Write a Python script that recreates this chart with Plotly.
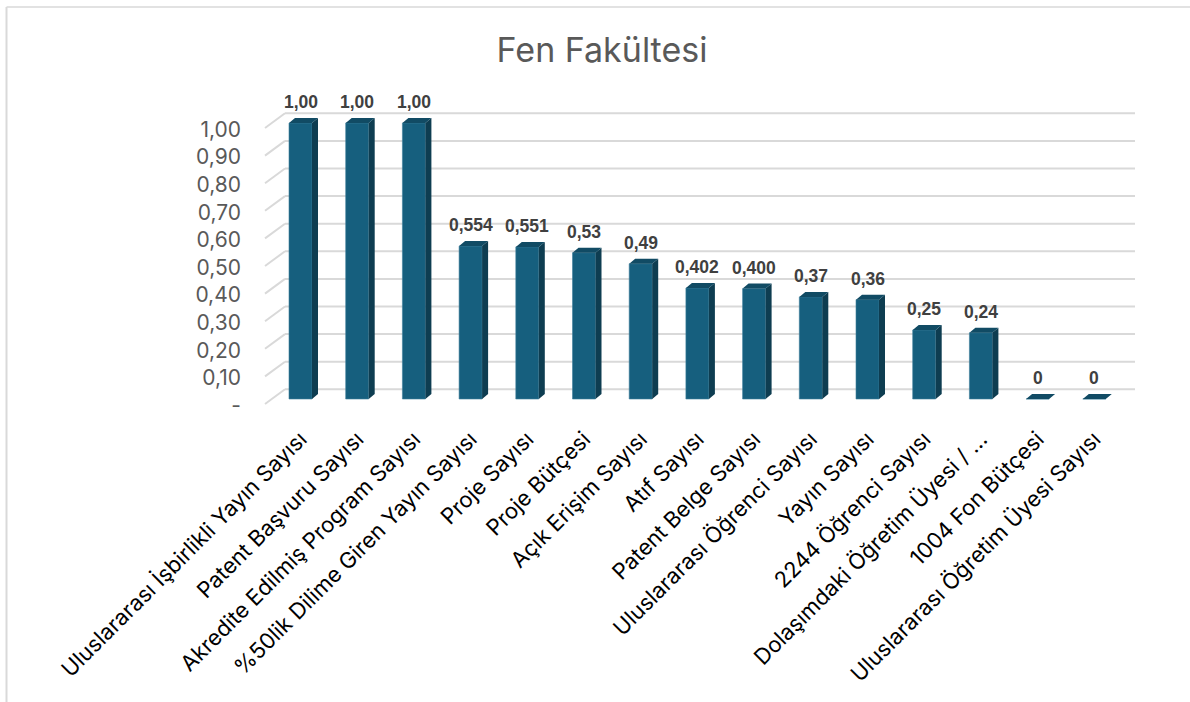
import plotly.graph_objects as go

# ---------------- data ----------------
categories = [
    "Uluslararası İşbirlikli Yayın Sayısı",
    "Patent Başvuru Sayısı",
    "Akredite Edilmiş Program Sayısı",
    "%50lik Dilime Giren Yayın Sayısı",
    "Proje Sayısı",
    "Proje Bütçesi",
    "Açık Erişim Sayısı",
    "Atıf Sayısı",
    "Patent Belge Sayısı",
    "Uluslararası Öğrenci Sayısı",
    "Yayın Sayısı",
    "2244 Öğrenci Sayısı",
    "Dolaşımdaki Öğretim Üyesi / …",
    "1004 Fon Bütçesi",
    "Uluslararası Öğretim Üyesi Sayısı",
]
values = [1.00, 1.00, 1.00, 0.554, 0.551, 0.53, 0.49, 0.402, 0.400, 0.37, 0.36, 0.25, 0.24, 0.0, 0.0]
value_labels = ["1,00", "1,00", "1,00", "0,554", "0,551", "0,53", "0,49", "0,402", "0,400",
                "0,37", "0,36", "0,25", "0,24", "0", "0"]
y_tick_values = [0.0, 0.1, 0.2, 0.3, 0.4, 0.5, 0.6, 0.7, 0.8, 0.9, 1.0]
y_tick_labels = ["-", "0,10", "0,20", "0,30", "0,40", "0,50", "0,60", "0,70", "0,80", "0,90", "1,00"]
title_text = "Fen Fakültesi"

# ---------------- geometry (pixels) ----------------
W, H = 1190, 702
PPU = 276.0            # pixels per value unit (vertical)
BAR0 = 399.0           # pixel row of front bar base
LAB0 = 405.5           # pixel row of tick label for 0
BACK_OFF = 9.7         # back wall lies this many px above the bar plane
FRONT_OFF = -5.0       # front wall edge below bar plane
X0PX, STEP = 300.5, 56.7
DOM_BOT, DOM_TOP = 421.0, 60.0

FRONT = "#165F7E"
SIDE = "#0E3D51"
TOP = "#114B64"
GRID = "#D9D9D9"

def yrange(zero_px):
    return [(zero_px - DOM_BOT) / PPU, (zero_px - DOM_TOP) / PPU]

xr = [(0 - X0PX) / STEP, (W - X0PX) / STEP]
xs = list(range(len(categories)))
bw = 23.0 / STEP
hw = bw / 2
dx = 6.0 / STEP
dy = 5.0 / PPU

fig = go.Figure()

fig.add_trace(go.Bar(x=xs, y=values, width=bw,
                     marker=dict(color=FRONT, line=dict(width=0.6, color="#3E7F9C")),
                     hoverinfo="skip", showlegend=False))

# side and top faces
sx, sy = [], []
tx, ty = [], []
for x, v in zip(xs, values):
    sx += [x + hw, x + hw + dx, x + hw + dx, x + hw, x + hw, None]
    sy += [0, dy, v + dy, v, 0, None]
    tx += [x - hw, x + hw, x + hw + dx, x - hw + dx, x - hw, None]
    ty += [v, v, v + dy, v + dy, v, None]
fig.add_trace(go.Scatter(x=sx, y=sy, fill="toself", fillcolor=SIDE, mode="lines",
                         line=dict(width=0, color=SIDE), hoverinfo="skip", showlegend=False))
fig.add_trace(go.Scatter(x=tx, y=ty, fill="toself", fillcolor=TOP, mode="lines",
                         line=dict(width=0, color=TOP), hoverinfo="skip", showlegend=False))

# data labels
for x, v, t in zip(xs, values, value_labels):
    fig.add_annotation(x=x, y=v, xref="x", yref="y", text=t, showarrow=False, yshift=21,
                       font=dict(family="Liberation Sans, Arial", size=17.5, color="#404040", weight="bold"))

# back wall gridlines + left wall diagonals
for v in y_tick_values:
    fig.add_shape(type="line", xref="paper", yref="y", x0=285 / W, x1=1135 / W,
                  y0=v + BACK_OFF / PPU, y1=v + BACK_OFF / PPU,
                  line=dict(color=GRID, width=2), layer="below")
    fig.add_shape(type="line", xref="paper", yref="y", x0=265 / W, x1=285 / W,
                  y0=v + FRONT_OFF / PPU, y1=v + BACK_OFF / PPU,
                  line=dict(color=GRID, width=2), layer="below")

# chart border (top and left)
fig.add_shape(type="line", xref="paper", yref="paper", x0=6.5 / W, x1=1.0, y0=1 - 7 / H, y1=1 - 7 / H,
              line=dict(color=GRID, width=1.5))
fig.add_shape(type="line", xref="paper", yref="paper", x0=6.5 / W, x1=6.5 / W, y0=0, y1=1 - 7 / H,
              line=dict(color=GRID, width=2))

fig.update_layout(
    width=W, height=H,
    margin=dict(l=0, r=0, t=0, b=0),
    paper_bgcolor="white", plot_bgcolor="rgba(0,0,0,0)",
    title=dict(text=title_text, x=602 / W, xanchor="center", y=1 - 50 / H, yanchor="middle",
               font=dict(family="Inter, Open Sans, sans-serif", size=34, color="#595959")),
    xaxis=dict(domain=[0, 1], range=xr, tickmode="array", tickvals=xs, ticktext=categories,
               tickangle=-45, showgrid=False, zeroline=False, showline=False, ticks="",
               tickfont=dict(family="Inter, Open Sans, sans-serif", size=22, color="#000000")),
    yaxis=dict(domain=[1 - DOM_BOT / H, 1 - DOM_TOP / H], range=yrange(BAR0),
               showgrid=False, zeroline=False, showline=False, showticklabels=False, ticks=""),
    yaxis2=dict(overlaying="y", anchor="free", position=241 / W, side="left",
                range=yrange(LAB0), tickmode="array", tickvals=y_tick_values, ticktext=y_tick_labels,
                showgrid=False, zeroline=False, showline=False, ticks="",
                tickfont=dict(family="Inter, Open Sans, sans-serif", size=21, color="#595959")),
    bargap=0.5,
)
# dummy trace to activate label axis
fig.add_trace(go.Scatter(x=[None], y=[None], yaxis="y2", showlegend=False, hoverinfo="skip"))

fig.write_html("out.html", config={"displayModeBar": False},
               post_script="document.body.style.margin='0';document.body.style.overflow='hidden';")
